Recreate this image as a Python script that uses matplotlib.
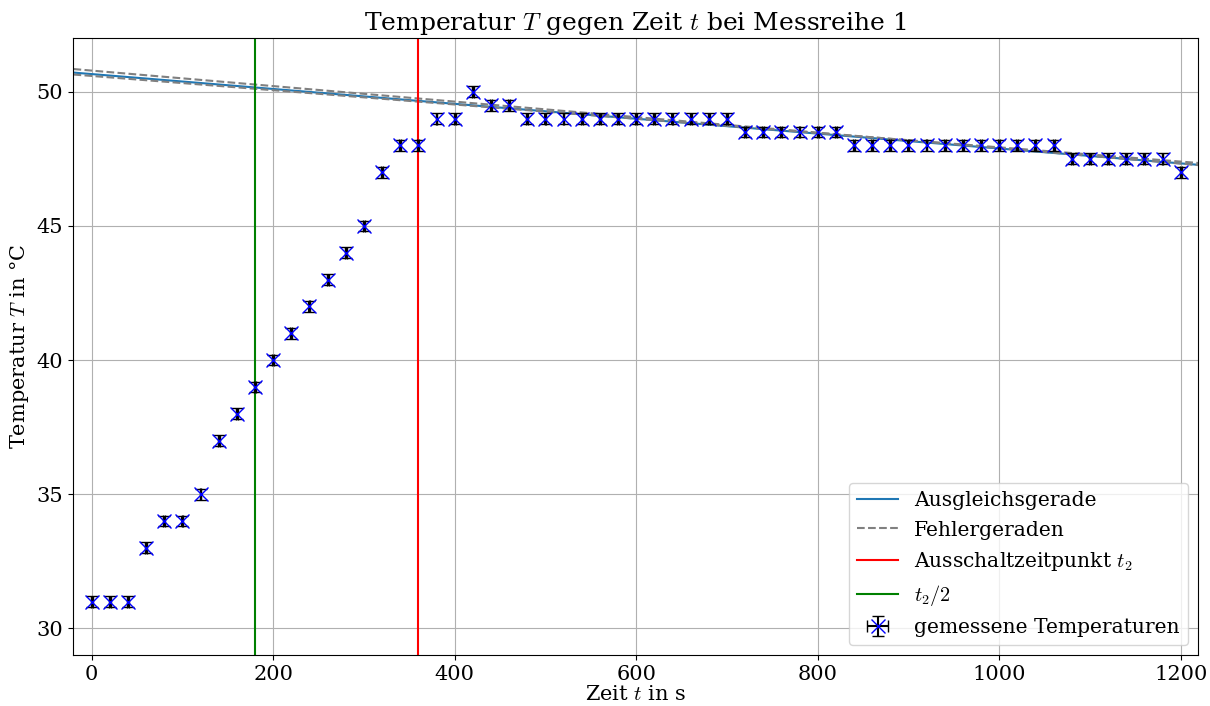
import numpy as np
import matplotlib
matplotlib.use('Agg')
import matplotlib.pyplot as plt

plt.rcParams['font.family'] = 'serif'
plt.rcParams['font.serif'] = ['DejaVu Serif']
plt.rcParams['mathtext.fontset'] = 'cm'
plt.rcParams['font.size'] = 15

t = np.arange(0, 1201, 20)
T = [31, 31, 31, 33, 34, 34, 35, 37, 38, 39, 40, 41, 42, 43, 44, 45, 47, 48, 48, 49, 49,
     50, 49.5, 49.5, 49, 49, 49, 49, 49, 49, 49, 49, 49, 49, 49, 49,
     48.5, 48.5, 48.5, 48.5, 48.5, 48.5,
     48, 48, 48, 48, 48, 48, 48, 48, 48, 48, 48, 48,
     47.5, 47.5, 47.5, 47.5, 47.5, 47.5, 47]
T_err = 0.2
t_err = 1

# Ausgleichsgerade und Fehlergeraden (Achsenabschnitt, Steigung)
fit = (50.66, -0.002774)
fit_up = (50.79, -0.00289)
fit_low = (50.59, -0.00266)
t2 = 360

x = np.linspace(-20, 1220, 10)

plt.figure(figsize=(12.1, 7.06), dpi=100)
plt.title('Temperatur $T$ gegen Zeit $t$ bei Messreihe 1', fontsize=18)
plt.plot(x, fit[0] + fit[1] * x, label='Ausgleichsgerade')
plt.plot(x, fit_up[0] + fit_up[1] * x, '--', color='grey', label='Fehlergeraden')
plt.plot(x, fit_low[0] + fit_low[1] * x, '--', color='grey')
plt.axvline(t2, color='red', label='Ausschaltzeitpunkt $t_2$')
plt.axvline(t2 / 2, color='green', label='$t_2/2$')
plt.errorbar(t, T, yerr=T_err, xerr=t_err, fmt='x', color='blue', ecolor='black',
             markersize=10, capsize=4, label='gemessene Temperaturen')
plt.xlim(-21, 1219)
plt.ylim(29, 52)
plt.xlabel('Zeit $t$ in s', labelpad=1)
plt.ylabel('Temperatur $T$ in °C')
plt.grid()
plt.legend(loc='lower right', fontsize=14.6)
plt.subplots_adjust(left=0.06, right=0.99, top=0.946, bottom=0.072)
plt.savefig('out.png')
